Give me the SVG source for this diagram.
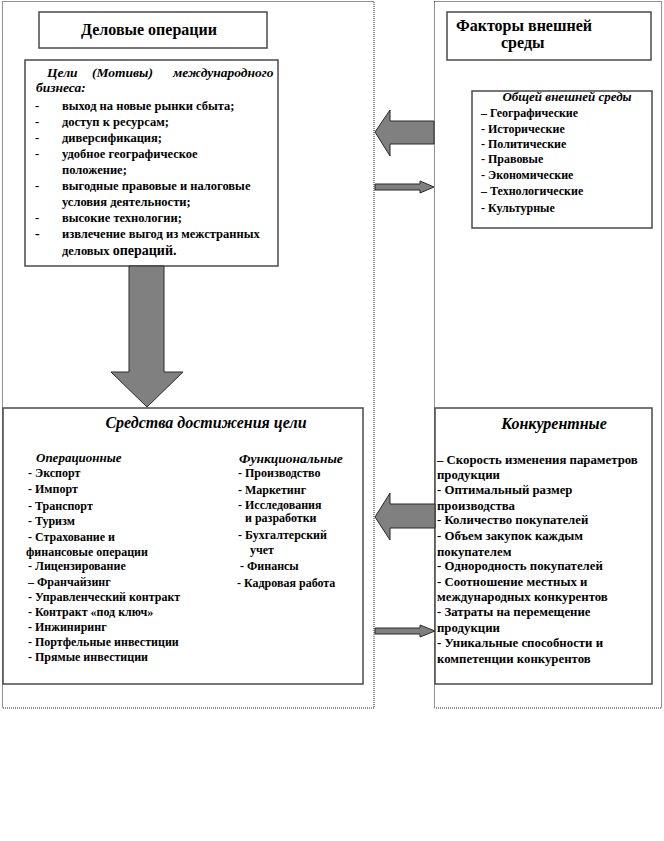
<svg xmlns="http://www.w3.org/2000/svg" width="664" height="841" viewBox="0 0 664 841">
<style>
.outer{fill:none;stroke:#222;stroke-width:1;stroke-dasharray:1,1}
.box{fill:#fff;stroke:#4a4a4a;stroke-width:1.5}
.arr{fill:#808080;stroke:#2a2a2a;stroke-width:1}
text{font-family:"Liberation Serif","Times New Roman",serif;font-weight:bold;fill:#000}
.t{font-size:12px}
.g{font-size:12.5px}
.c{font-size:12.8px}
.h{font-size:16px}
.bi{font-style:italic}
</style>
<rect width="664" height="841" fill="#fff"/>
<g id="left-panel">
<rect class="outer" x="2.5" y="1.5" width="371.5" height="706.5"/>
</g>
<g id="right-panel">
<rect class="outer" x="434.5" y="1.5" width="227" height="706.5"/>
</g>
<g id="business-ops">
<rect class="box" x="39" y="12" width="228" height="36"/>
<text class="h" x="149" y="35" text-anchor="middle">Деловые операции</text>
</g>
<g id="goals">
<rect class="box" x="25" y="60" width="253" height="206"/>
<text class="bi" y="77" font-size="13.5"><tspan x="47">Цели</tspan><tspan x="92">(Мотивы)</tspan><tspan x="173">международного</tspan></text>
<text class="bi" x="36" y="92" font-size="13.5">бизнеса:</text>
<text class="g" x="35" y="110">-</text><text class="g" x="62" y="110">выход  на новые рынки сбыта;</text>
<text class="g" x="35" y="126">-</text><text class="g" x="62" y="126">доступ к  ресурсам;</text>
<text class="g" x="35" y="142">-</text><text class="g" x="62" y="142">диверсификация;</text>
<text class="g" x="35" y="158">-</text><text class="g" x="62" y="158">удобное географическое</text>
<text class="g" x="62" y="174">положение;</text>
<text class="g" x="35" y="190">-</text><text class="g" x="62" y="190">выгодные  правовые и налоговые</text>
<text class="g" x="62" y="206">условия деятельности;</text>
<text class="g" x="35" y="222">-</text><text class="g" x="62" y="222">высокие технологии;</text>
<text x="35" y="238" font-size="14">-</text><text class="g" x="62" y="238">извлечение выгод из межстранных</text>
<text class="g" x="62" y="255">деловых <tspan font-size="14">операций.</tspan></text>
</g>
<g id="env-factors">
<rect class="box" x="447" y="12" width="204" height="48"/>
<text class="h" x="456" y="31">Факторы внешней</text>
<text class="h" x="501" y="48">среды</text>
</g>
<g id="general-env">
<rect class="box" x="472" y="91" width="180" height="137"/>
<text class="bi" x="567" y="101" text-anchor="middle" font-size="13">Общей внешней среды</text>
<text class="t" x="481" y="117">– Географические</text>
<text class="t" x="481" y="133">- Исторические</text>
<text class="t" x="481" y="148">- Политические</text>
<text class="t" x="481" y="163">- Правовые</text>
<text class="t" x="481" y="179">- Экономические</text>
<text class="t" x="481" y="195">– Технологические</text>
<text class="t" x="481" y="212">-  Культурные</text>
</g>
<g id="means">
<rect class="box" x="3" y="408" width="360" height="276"/>
<text class="h bi" x="206" y="428" text-anchor="middle">Средства достижения цели</text>
<text class="bi" x="36" y="462" font-size="13">Операционные</text>
<text class="t" x="28" y="477">-  Экспорт</text>
<text class="t" x="28" y="493">-  Импорт</text>
<text class="t" x="28" y="510">-  Транспорт</text>
<text class="t" x="28" y="525">-  Туризм</text>
<text class="t" x="28" y="541">-  Страхование  и</text>
<text class="t" x="26" y="556">финансовые операции</text>
<text class="t" x="28" y="570">-  Лицензирование</text>
<text class="t" x="28" y="586">–  Франчайзинг</text>
<text class="t" x="28" y="601">- Управленческий контракт</text>
<text class="t" x="28" y="616">- Контракт  «под ключ»</text>
<text class="t" x="28" y="631">- Инжиниринг</text>
<text class="t" x="28" y="646">- Портфельные  инвестиции</text>
<text class="t" x="28" y="661">- Прямые инвестиции</text>
<text class="bi" x="239" y="463" font-size="13.5">Функциональные</text>
<text class="t" x="238" y="477">- Производство</text>
<text class="t" x="238" y="494">-  Маркетинг</text>
<text class="t" x="238" y="509">- Исследования</text>
<text class="t" x="245" y="522">и разработки</text>
<text class="t" x="238" y="539">-  Бухгалтерский</text>
<text class="t" x="250" y="554">учет</text>
<text class="t" x="240" y="570">-  Финансы</text>
<text class="t" x="237" y="587">-   Кадровая работа</text>
</g>
<g id="competitive">
<rect class="box" x="435" y="408" width="217" height="276"/>
<text class="h bi" x="554" y="429" text-anchor="middle">Конкурентные</text>
<text class="c" x="437" y="464">– Скорость изменения параметров</text>
<text class="c" x="437" y="479">продукции</text>
<text class="c" x="437" y="494">-  Оптимальный  размер</text>
<text class="c" x="437" y="510">производства</text>
<text class="c" x="437" y="524">-  Количество  покупателей</text>
<text class="c" x="437" y="540">-  Объем закупок каждым</text>
<text class="c" x="437" y="556">покупателем</text>
<text class="c" x="437" y="570">-   Однородность  покупателей</text>
<text class="c" x="437" y="586">-  Соотношение  местных  и</text>
<text class="c" x="437" y="601">международных  конкурентов</text>
<text class="c" x="437" y="616">-   Затраты на перемещение</text>
<text class="c" x="437" y="632">продукции</text>
<text class="c" x="437" y="647">-  Уникальные  способности и</text>
<text class="c" x="437" y="663">компетенции конкурентов</text>
</g>
<g id="connectors">
<path class="arr" d="M129,266 L129,372 L111,372 L147,407 L183,372 L164,372 L164,266 Z"/>
<path class="arr" d="M434,121 L390,121 L390,110 L375,132 L390,156 L390,144 L434,144 Z"/>
<path class="arr" d="M375,184 L420,184 L420,181 L434,187 L420,193 L420,190 L375,190 Z"/>
<path class="arr" d="M435,504 L390,504 L390,493 L375,517 L390,540 L390,528 L435,528 Z"/>
<path class="arr" d="M375,628 L420,628 L420,625 L435,631 L420,637 L420,634 L375,634 Z"/>
</g>
</svg>
